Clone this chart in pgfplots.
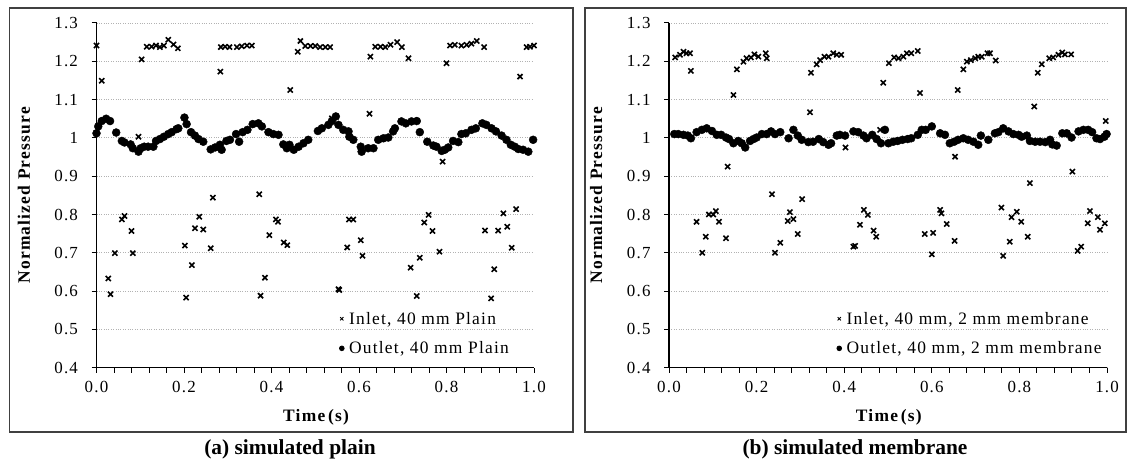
\documentclass[border=0pt]{standalone}
\usepackage{fontspec}
\setmainfont{Liberation Serif}
\newfontfamily\pfont{Liberation Serif}[LetterSpace=7]
\usepackage{pgfplots}
\pgfplotsset{compat=1.18}

\pgfplotsset{
 panel/.style={
  scale only axis, height=344.7bp, anchor=south west,
  xmin=0, xmax=1, ymin=0.4, ymax=1.3, clip=false,
  axis x line*=bottom, axis y line*=left,
  axis line style={line width=1.2bp, black},
  xtick={0,0.2,0.4,0.6,0.8,1}, minor x tick num=4,
  xticklabels={0.0,0.2,0.4,0.6,0.8,1.0},
  ytick={0.4,0.5,0.6,0.7,0.8,0.9,1,1.1,1.2,1.3},
  yticklabels={0.4,0.5,0.6,0.7,0.8,0.9,1,1.1,1.2,1.3},
  tick align=outside, major tick length=5bp, minor tick length=5bp,
  tick style={black, line width=1bp},
  ymajorgrids, major grid style={gray!60, dotted, line width=0.8bp},
  /pgf/number format/assume math mode=true,
  tick label style={font=\pfont\fontsize{17}{19}\selectfont},
  xticklabel style={yshift=-5bp},
  yticklabel style={xshift=-10bp},
  label style={font=\pfont\bfseries\fontsize{17.5}{19}\selectfont},
  ylabel={Normalized Pressure},
  xlabel={Time\,(s)},
  ylabel style={at={(axis description cs:-0.166,0.5)}, anchor=center},
  xlabel style={at={(axis description cs:0.502,-0.143)}, anchor=center},
  legend cell align=left,
  legend image post style={mark size=2.3bp, line width=0.9bp},
  legend style={draw=none, fill=none, font=\pfont\fontsize{17.5}{19}\selectfont,
    row sep=12bp, inner sep=0pt,
    /tikz/every odd column/.append style={column sep=3bp}},
 },
 inlet/.style={only marks, mark=x, mark size=3.6bp, line width=1.6bp, black},
 outlet/.style={only marks, mark=*, mark size=4bp, black},
}

\begin{document}
\begin{tikzpicture}[x=1bp,y=1bp]
\path[use as bounding box] (0,0) rectangle (1129,469);

% ---------- (a) simulated plain ----------
\begin{axis}[panel, at={(96.5bp,101.3bp)}, width=437.5bp,
  legend style={at={(axis description cs:0.555,0.168)}, anchor=north west}]
\addplot[inlet] coordinates {
(0.000,1.241)(0.012,1.149)(0.103,1.205)(0.115,1.238)(0.126,1.238)(0.136,1.241)
(0.145,1.237)(0.154,1.241)(0.164,1.256)(0.176,1.244)(0.186,1.234)
(0.283,1.173)(0.284,1.237)(0.294,1.238)(0.304,1.237)(0.321,1.237)(0.332,1.239)(0.344,1.241)(0.355,1.241)
(0.443,1.125)(0.460,1.225)(0.466,1.253)(0.477,1.240)(0.489,1.240)(0.500,1.240)(0.511,1.237)(0.523,1.237)(0.534,1.237)
(0.626,1.212)(0.637,1.238)(0.649,1.238)(0.660,1.237)(0.672,1.243)(0.687,1.250)(0.698,1.237)(0.713,1.208)
(0.800,1.195)(0.808,1.241)(0.819,1.243)(0.834,1.241)(0.846,1.243)(0.857,1.246)(0.869,1.253)(0.886,1.237)
(0.968,1.160)(0.983,1.237)(0.991,1.238)(1.000,1.241)
(0.096,1.003)(0.538,1.051)(0.624,1.063)(0.791,0.938)
(0.027,0.633)(0.032,0.592)(0.042,0.699)(0.058,0.787)(0.064,0.796)(0.080,0.757)(0.083,0.699)
(0.202,0.719)(0.205,0.583)(0.218,0.668)(0.225,0.764)(0.235,0.794)(0.244,0.761)(0.261,0.712)(0.266,0.844)
(0.372,0.853)(0.375,0.588)(0.385,0.635)(0.395,0.746)(0.410,0.787)(0.415,0.781)(0.428,0.727)(0.436,0.720)
(0.553,0.605)(0.555,0.603)(0.573,0.714)(0.577,0.787)(0.587,0.787)(0.604,0.733)(0.608,0.692)
(0.718,0.661)(0.732,0.587)(0.739,0.687)(0.749,0.779)(0.759,0.799)(0.768,0.757)(0.784,0.703)
(0.888,0.758)(0.902,0.581)(0.909,0.657)(0.918,0.758)(0.930,0.803)(0.939,0.768)(0.949,0.713)(0.959,0.814)
};
\addlegendentry{Inlet, 40 mm Plain}
\addplot[outlet] coordinates {
(0.000,1.012)(0.004,1.030)(0.012,1.044)(0.022,1.050)(0.031,1.044)(0.045,1.014)(0.058,0.992)(0.064,0.988)
(0.078,0.983)(0.083,0.973)(0.096,0.964)(0.101,0.973)(0.109,0.977)(0.118,0.977)(0.130,0.977)(0.136,0.992)
(0.145,0.997)(0.154,1.003)(0.164,1.010)(0.172,1.015)(0.183,1.023)(0.187,1.025)(0.201,1.053)(0.206,1.036)
(0.216,1.015)(0.225,1.006)(0.233,0.997)(0.244,0.990)(0.261,0.970)(0.271,0.975)(0.282,0.982)(0.286,0.969)
(0.297,0.992)(0.305,0.995)(0.319,1.010)(0.326,0.990)(0.334,1.015)(0.345,1.021)(0.357,1.036)(0.370,1.038)
(0.378,1.030)(0.393,1.015)(0.404,1.010)(0.416,1.008)(0.427,0.983)(0.435,0.973)(0.441,0.982)(0.451,0.969)
(0.462,0.977)(0.473,0.986)(0.484,0.995)(0.506,1.018)(0.515,1.025)(0.530,1.034)(0.538,1.044)(0.547,1.056)
(0.553,1.034)(0.564,1.021)(0.576,1.017)(0.578,1.003)(0.587,0.995)(0.604,0.977)(0.606,0.964)(0.621,0.973)
(0.633,0.973)(0.644,0.995)(0.656,0.999)(0.667,1.001)(0.678,1.017)(0.682,1.025)(0.697,1.043)(0.707,1.038)
(0.720,1.043)(0.732,1.044)(0.739,1.015)(0.756,0.990)(0.770,0.980)(0.777,0.977)(0.789,0.966)(0.796,0.969)
(0.804,0.975)(0.815,0.992)(0.827,0.989)(0.834,1.010)(0.844,1.012)(0.857,1.021)(0.867,1.025)(0.882,1.038)
(0.891,1.034)(0.903,1.025)(0.913,1.017)(0.926,1.006)(0.937,0.995)(0.947,0.982)(0.956,0.977)(0.964,0.971)
(0.975,0.969)(0.987,0.964)(0.998,0.995)
};
\addlegendentry{Outlet, 40 mm Plain}
\end{axis}

% ---------- (b) simulated membrane ----------
\begin{axis}[panel, at={(669bp,101.3bp)}, width=438bp,
  legend style={at={(axis description cs:0.383,0.168)}, anchor=north west}]
\addplot[inlet] coordinates {
(0.014,1.210)(0.025,1.217)(0.033,1.225)(0.040,1.221)(0.048,1.221)(0.050,1.175)
(0.134,0.925)(0.147,1.112)(0.155,1.179)(0.170,1.199)(0.177,1.208)(0.187,1.210)(0.195,1.218)(0.204,1.212)(0.221,1.221)(0.223,1.208)
(0.322,1.067)(0.324,1.170)(0.337,1.192)(0.345,1.203)(0.355,1.212)(0.364,1.212)(0.375,1.221)(0.383,1.217)(0.393,1.217)(0.403,0.975)
(0.482,1.021)(0.489,1.144)(0.502,1.195)(0.514,1.210)(0.524,1.208)(0.535,1.212)(0.543,1.221)(0.553,1.221)(0.568,1.227)(0.573,1.117)
(0.653,0.951)(0.659,1.125)(0.672,1.179)(0.680,1.199)(0.689,1.203)(0.699,1.208)(0.706,1.212)(0.714,1.212)(0.727,1.221)(0.733,1.221)(0.746,1.202)
(0.824,0.882)(0.834,1.082)(0.842,1.170)(0.851,1.192)(0.868,1.208)(0.877,1.210)(0.889,1.217)(0.898,1.223)(0.904,1.218)(0.918,1.218)(0.921,0.912)
(0.997,1.044)
(0.063,0.781)(0.076,0.700)(0.084,0.742)(0.091,0.800)(0.101,0.800)(0.107,0.809)(0.114,0.781)(0.130,0.738)
(0.235,0.853)(0.242,0.700)(0.254,0.726)(0.271,0.783)(0.276,0.806)(0.284,0.788)(0.294,0.749)(0.304,0.840)
(0.421,0.716)(0.425,0.718)(0.436,0.773)(0.445,0.812)(0.454,0.799)(0.467,0.758)(0.473,0.742)
(0.584,0.749)(0.603,0.752)(0.600,0.696)(0.619,0.812)(0.622,0.803)(0.634,0.775)(0.652,0.731)
(0.759,0.818)(0.763,0.692)(0.778,0.729)(0.782,0.793)(0.794,0.807)(0.804,0.781)(0.819,0.742)
(0.933,0.705)(0.941,0.716)(0.956,0.777)(0.961,0.809)(0.979,0.793)(0.984,0.760)(0.995,0.777)
};
\addlegendentry{Inlet, 40 mm, 2 mm membrane}
\addplot[outlet] coordinates {
(0.012,1.010)(0.021,1.010)(0.033,1.008)(0.043,1.006)(0.050,0.999)(0.063,1.015)(0.075,1.021)(0.086,1.025)
(0.098,1.018)(0.109,1.008)(0.119,1.008)(0.130,1.001)(0.137,0.997)(0.147,0.986)(0.158,0.992)(0.166,0.986)
(0.174,0.975)(0.185,0.992)(0.193,0.997)(0.200,1.001)(0.212,1.010)(0.223,1.010)(0.233,1.017)(0.242,1.010)
(0.254,1.015)(0.273,0.999)(0.284,1.021)(0.294,1.006)(0.303,0.995)(0.318,0.989)(0.329,0.990)(0.342,0.997)
(0.352,0.989)(0.364,0.982)(0.370,0.986)(0.383,1.006)(0.390,1.008)(0.402,1.006)(0.421,1.017)(0.432,1.015)
(0.444,1.006)(0.451,0.999)(0.464,1.008)(0.474,0.997)(0.484,0.986)(0.493,1.021)(0.501,0.986)(0.512,0.990)
(0.522,0.992)(0.533,0.995)(0.545,0.997)(0.553,0.999)(0.568,1.008)(0.577,1.021)(0.586,1.021)(0.600,1.030)
(0.619,1.012)(0.630,1.008)(0.641,0.986)(0.651,0.990)(0.660,0.995)(0.672,0.999)(0.683,0.995)(0.695,0.990)
(0.706,0.982)(0.712,1.006)(0.729,0.995)(0.744,1.012)(0.752,1.015)(0.763,1.025)(0.775,1.017)(0.786,1.010)
(0.798,1.008)(0.805,1.003)(0.817,1.006)(0.824,0.992)(0.836,0.990)(0.847,0.990)(0.859,0.989)(0.870,0.995)
(0.875,0.983)(0.885,0.980)(0.898,1.012)(0.908,1.012)(0.919,1.001)(0.935,1.017)(0.946,1.021)(0.957,1.021)
(0.966,1.015)(0.976,0.999)(0.984,0.997)(0.994,1.003)(0.999,1.010)
};
\addlegendentry{Outlet, 40 mm, 2 mm membrane}
\end{axis}

% frames and captions
\draw[line width=1.4bp, black!75] (9.5,37) rectangle (573,461);
\draw[line width=1.4bp, black!75] (585,37) rectangle (1126,461);
\node[font=\bfseries\fontsize{21.5}{24}\selectfont] at (290,20) {(a) simulated plain};
\node[font=\bfseries\fontsize{21.5}{24}\selectfont] at (855,20) {(b) simulated membrane};
\end{tikzpicture}
\end{document}
